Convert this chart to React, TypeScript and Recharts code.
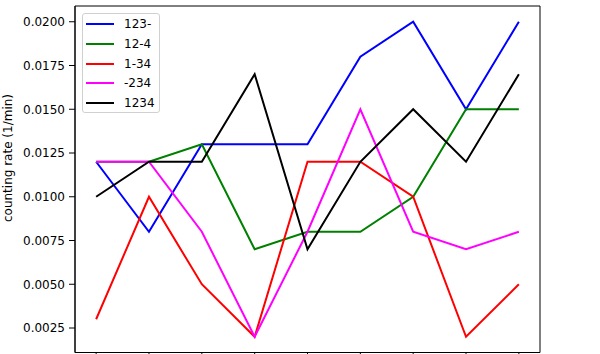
import React from 'react';
import { LineChart, Line, XAxis, YAxis, ReferenceArea } from 'recharts';

const positions = [0, 1, 2, 3, 4, 5, 6, 7, 8];
const s123 = [0.012, 0.008, 0.013, 0.013, 0.013, 0.018, 0.020, 0.015, 0.020];
const s124 = [0.012, 0.012, 0.013, 0.007, 0.008, 0.008, 0.010, 0.015, 0.015];
const s134 = [0.003, 0.010, 0.005, 0.002, 0.012, 0.012, 0.010, 0.002, 0.005];
const s234 = [0.012, 0.012, 0.008, 0.002, 0.008, 0.015, 0.008, 0.007, 0.008];
const s1234 = [0.010, 0.012, 0.012, 0.017, 0.007, 0.012, 0.015, 0.012, 0.017];
const yTicks = [0.0025, 0.005, 0.0075, 0.01, 0.0125, 0.015, 0.0175, 0.02];
const xDomain = [-0.4, 8.4];
const yDomain = [0.0011, 0.0209];

const seriesDefs = [
  { key: 's123', name: '123-', color: '#0000ff' },
  { key: 's124', name: '12-4', color: '#008000' },
  { key: 's134', name: '1-34', color: '#ff0000' },
  { key: 's234', name: '-234', color: '#ff00ff' },
  { key: 's1234', name: '1234', color: '#000000' },
];

const data = positions.map((x, i) => ({
  x,
  s123: s123[i],
  s124: s124[i],
  s134: s134[i],
  s234: s234[i],
  s1234: s1234[i],
}));

const FONT = '"DejaVu Sans", sans-serif';

const LegendBox = () => (
  <div
    style={{
      position: 'absolute',
      left: 82,
      top: 13,
      width: 76,
      height: 98,
      border: '1px solid #d0d0d0',
      borderRadius: 3,
      background: 'rgba(255,255,255,0.8)',
      fontFamily: FONT,
      fontSize: 12,
      color: '#000',
    }}
  >
    {seriesDefs.map((s, i) => (
      <div
        key={s.key}
        style={{ position: 'absolute', left: 0, top: 0.5 + i * 19.7, height: 19.7, display: 'flex', alignItems: 'center' }}
      >
        <div style={{ marginLeft: 3, width: 28, height: 2, background: s.color }} />
        <span style={{ marginLeft: 10, lineHeight: '12px' }}>{s.name}</span>
      </div>
    ))}
  </div>
);

export default function App() {
  return (
    <div style={{ position: 'absolute', left: 0, top: 0, width: 600, height: 400, background: '#fff' }}>
      <LineChart
        width={600}
        height={400}
        data={data}
        margin={{ top: 6, right: 60, bottom: 17.5, left: 0 }}
      >
        <XAxis
          dataKey="x"
          type="number"
          domain={xDomain}
          ticks={positions}
          allowDataOverflow
          height={30}
          stroke="#000"
          tickSize={6}
          tickFormatter={() => ''}
          axisLine={{ stroke: '#000', strokeWidth: 1 }}
        />
        <YAxis
          type="number"
          domain={yDomain}
          ticks={yTicks}
          allowDataOverflow
          width={75}
          tickSize={6}
          tickMargin={4}
          stroke="#000"
          tick={{ fill: '#000', fontSize: 12, fontFamily: FONT }}
          tickFormatter={(v: number) => v.toFixed(4)}
          axisLine={{ stroke: '#000', strokeWidth: 1 }}
          label={{
            content: () => (
              <text
                x={8}
                y={158}
                transform="rotate(-90 8 158)"
                textAnchor="middle"
                dominantBaseline="central"
                fontSize={12}
                fontFamily={FONT}
                fill="#000"
              >
                counting rate (1/min)
              </text>
            ),
          }}
        />
        <ReferenceArea
          x1={xDomain[0]}
          x2={xDomain[1]}
          y1={yDomain[0]}
          y2={yDomain[1]}
          fill="none"
          fillOpacity={0}
          stroke="#000"
          strokeWidth={1}
          ifOverflow="visible"
        />
        {seriesDefs.map((s) => (
          <Line
            key={s.key}
            type="linear"
            dataKey={s.key}
            name={s.name}
            stroke={s.color}
            strokeWidth={2}
            dot={false}
            isAnimationActive={false}
          />
        ))}
      </LineChart>
      <LegendBox />
    </div>
  );
}
